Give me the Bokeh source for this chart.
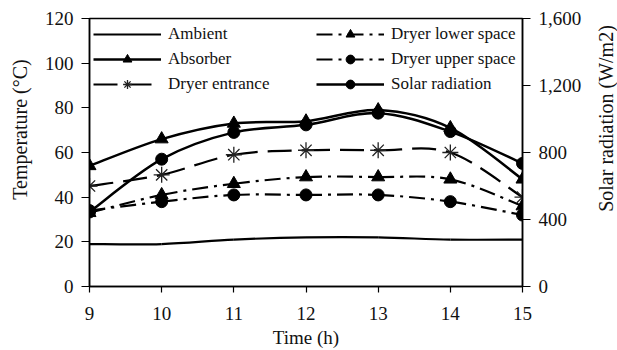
import math
from bokeh.plotting import figure
from bokeh.models import (Range1d, LinearAxis, FixedTicker, NumeralTickFormatter,
                          Legend, LegendItem, ColumnDataSource, Label)
from bokeh.embed import file_html
from bokeh.resources import INLINE

# ---- data ----
hours = [9, 10, 11, 12, 13, 14, 15]
ambient = [19, 19, 21, 22, 22, 21, 21]
absorber = [54, 66, 73, 74, 79, 71, 48]
dryer_entrance = [45, 50, 59, 61, 61, 60, 40]
dryer_lower = [33, 41, 46, 49, 49, 48, 36]
dryer_upper = [34, 38, 41, 41, 41, 38, 32]
solar = [445, 760, 920, 965, 1035, 925, 735]

temp_ticks = [0, 20, 40, 60, 80, 100, 120]
solar_ticks = [0, 400, 800, 1200, 1600]

legend_col1 = ["Ambient", "Absorber", "Dryer entrance"]
legend_col2 = ["Dryer lower space", "Dryer upper space", "Solar radiation"]

FONT = "Liberation Serif"
INK = "#111111"

p = figure(width=617, height=350, output_backend="svg", toolbar_location=None,
           x_range=Range1d(9, 15), y_range=Range1d(0, 120),
           min_border_left=89, min_border_right=95, min_border_top=18, min_border_bottom=62)
p.extra_y_ranges = {"solar": Range1d(0, 1600)}
p.xgrid.visible = False
p.ygrid.visible = False
p.outline_line_color = "black"
p.outline_line_width = 1.5
p.background_fill_color = "white"
p.border_fill_color = "white"


def smooth_source(xs, ys):
    """Bezier segments through the data points (Excel-like smoothed line)."""
    n = len(xs)
    d = dict(x0=[], y0=[], x1=[], y1=[], cx0=[], cy0=[], cx1=[], cy1=[])
    for i in range(n - 1):
        im = max(i - 1, 0)
        ip2 = min(i + 2, n - 1)
        d["x0"].append(xs[i]); d["y0"].append(ys[i])
        d["x1"].append(xs[i + 1]); d["y1"].append(ys[i + 1])
        d["cx0"].append(xs[i] + (xs[i + 1] - xs[im]) / 6.0)
        d["cy0"].append(ys[i] + (ys[i + 1] - ys[im]) / 6.0)
        d["cx1"].append(xs[i + 1] - (xs[ip2] - xs[i]) / 6.0)
        d["cy1"].append(ys[i + 1] - (ys[ip2] - ys[i]) / 6.0)
    return ColumnDataSource(d)


def series(ys, dash, width, marker=None, msize=12, yname="default"):
    kw = {} if yname == "default" else {"y_range_name": yname}
    r_line = p.bezier(x0="x0", y0="y0", x1="x1", y1="y1", cx0="cx0", cy0="cy0",
                      cx1="cx1", cy1="cy1", source=smooth_source(hours, ys),
                      line_color="black", line_width=width, line_dash=dash, **kw)
    rs = [r_line]
    if marker is not None:
        if marker == "asterisk":
            r_m = p.scatter(hours, ys, marker=marker, size=msize, line_color="#222222",
                            line_width=1.3, **kw)
        else:
            r_m = p.scatter(hours, ys, marker=marker, size=msize, fill_color="black",
                            line_color="black", **kw)
        rs.append(r_m)
    return rs


r_amb = series(ambient, "solid", 2.2)
r_abs = series(absorber, "solid", 2.5, "triangle", 13)
r_ent = series(dryer_entrance, "24 10", 2.2, "asterisk", 16)
r_low = series(dryer_lower, "16 6 3 6", 2.2, "triangle", 13)
r_up = series(dryer_upper, "16 6 3 6", 2.2, "circle", 12)
r_sol = series(solar, "solid", 2.5, "circle", 12, yname="solar")


def style_axis(ax):
    ax.axis_line_color = "black"
    ax.axis_line_width = 1.5
    ax.major_tick_line_color = "black"
    ax.major_tick_line_width = 1.2
    ax.major_tick_out = 8
    ax.major_tick_in = 0
    ax.minor_tick_out = 0
    ax.minor_tick_in = 0
    ax.major_label_text_font = FONT
    ax.major_label_text_font_size = "19px"
    ax.major_label_text_color = INK
    ax.axis_label_text_font = FONT
    ax.axis_label_text_font_size = "19px"
    ax.axis_label_text_font_style = "normal"
    ax.axis_label_text_color = INK


xa = p.xaxis[0]
style_axis(xa)
xa.ticker = FixedTicker(ticks=hours)
xa.axis_label = "Time (h)"
xa.major_tick_out = 6
xa.major_label_standoff = 14
xa.axis_label_standoff = 4

ya = p.yaxis[0]
style_axis(ya)
ya.ticker = FixedTicker(ticks=temp_ticks)
ya.major_label_standoff = 8

ra = LinearAxis(y_range_name="solar")
style_axis(ra)
ra.ticker = FixedTicker(ticks=solar_ticks)
ra.formatter = NumeralTickFormatter(format="0,0")
ra.major_label_standoff = 8
p.add_layout(ra, "right")

# axis titles (vertical, reading bottom to top) in the side panels
p.add_layout(Label(x=0, y=157, x_units="screen", y_units="screen",
                   text="Temperature (°C)", angle=math.pi / 2,
                   text_align="center", text_baseline="middle",
                   text_font=FONT, text_font_size="20px", text_color=INK), "left")
p.add_layout(Label(x=21, y=168, x_units="screen", y_units="screen",
                   text="Solar radiation (W/m2)", angle=math.pi / 2,
                   text_align="center", text_baseline="middle",
                   text_font=FONT, text_font_size="20px", text_color=INK), "right")


def make_legend(names, renderer_sets, x):
    items = [LegendItem(label=n, renderers=rs) for n, rs in zip(names, renderer_sets)]
    lg = Legend(items=items, location=(x, 191), orientation="vertical",
                glyph_width=68, glyph_height=22, label_height=22, spacing=3,
                label_standoff=7, padding=0, margin=0,
                border_line_color=None, background_fill_alpha=0)
    lg.label_text_font = FONT
    lg.label_text_font_size = "17px"
    lg.label_text_color = INK
    p.add_layout(lg, "center")


make_legend(legend_col1, [r_amb, r_abs, r_ent], 4)
make_legend(legend_col2, [r_low, r_up, r_sol], 227)

open("out.html", "w").write(file_html(p, INLINE))
